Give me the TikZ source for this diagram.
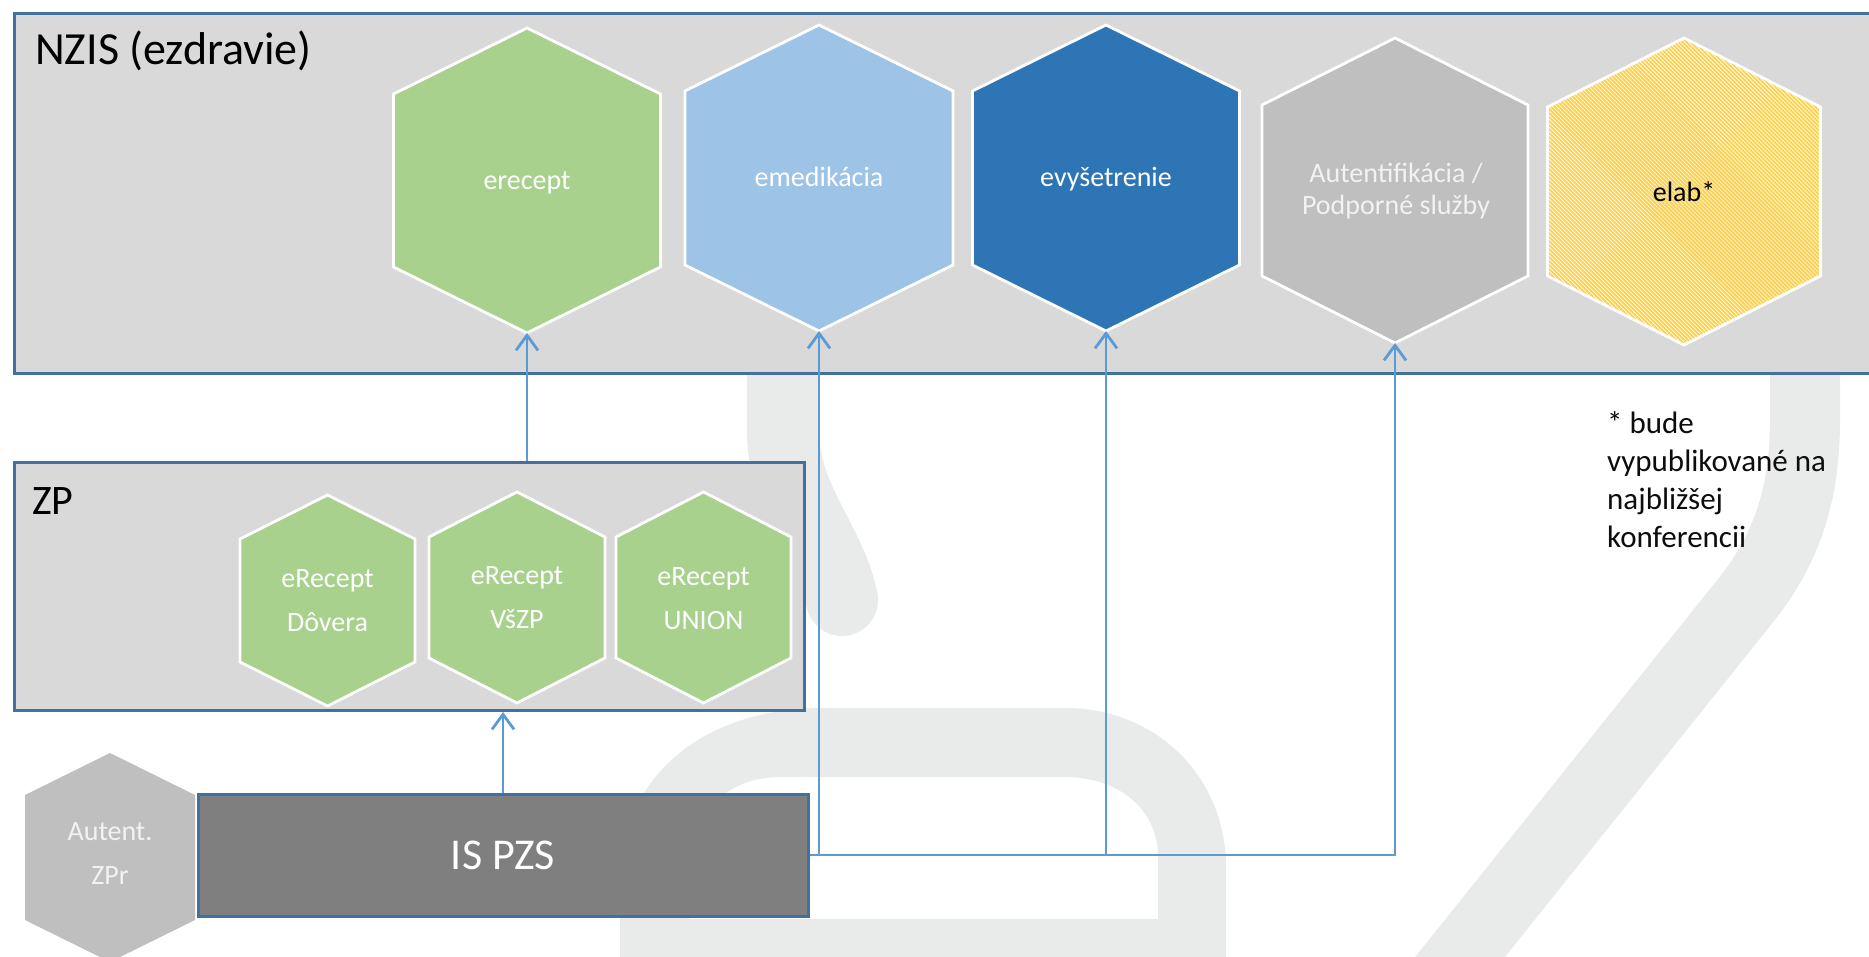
\documentclass[tikz,border=0pt]{standalone}
\usepackage{fontspec}
\setmainfont{Carlito}
\usetikzlibrary{arrows.meta,patterns.meta}
\definecolor{boxfill}{HTML}{D9D9D9}
\definecolor{boxline}{HTML}{41719C}
\definecolor{hgreen}{HTML}{A9D18E}
\definecolor{hlblue}{HTML}{9DC3E6}
\definecolor{hdblue}{HTML}{2E75B6}
\definecolor{hgray}{HTML}{BFBFBF}
\definecolor{hyellow}{HTML}{FFD347}
\definecolor{dgray}{HTML}{7F7F7F}
\definecolor{connc}{HTML}{5B9BD5}
\definecolor{wmark}{HTML}{E9EBEA}
\definecolor{ltext}{HTML}{F2F2F2}
% #1 style, #2 cx, #3 top, #4 bottom, #5 half width, #6 shoulder offset
\newcommand\hexa[6]{\path[#1] (#2,#3) -- (#2+#5,#3+#6) -- (#2+#5,#4-#6) -- (#2,#4) -- (#2-#5,#4-#6) -- (#2-#5,#3+#6) -- cycle;}
\begin{document}
\begin{tikzpicture}[x=1pt,y=-1pt,
  hexline/.style={draw=white, line width=2.8pt, line join=miter},
  htext/.style={text=white, font=\fontsize{28}{34}\selectfont, anchor=base, inner sep=0pt},
  container/.style={fill=boxfill, draw=boxline, line width=3pt, inner sep=0pt, anchor=north west},
  connline/.style={draw=connc, line width=2.8pt},
  arrowto/.style={-{Straight Barb[length=15pt,width=22pt]}},
  title/.style={anchor=base west, inner sep=0pt, text=black},
  note/.style={anchor=base west, inner sep=0pt, text=black!95, font=\fontsize{31}{38}\selectfont}
]
\useasboundingbox (0,0) rectangle (1869,957);
\clip (0,0) rectangle (1869,957);
\fill[white] (0,0) rectangle (1869,957);

% background watermark
\fill[wmark, even odd rule]
  (620,1000) -- (620,880) .. controls (620,780) and (700,708) .. (823,708) -- (1064,708)
  .. controls (1160,708) and (1226,780) .. (1226,867) -- (1226,1000) -- cycle
  (689,919) -- (689,880) .. controls (689,820) and (720,777) .. (781,777) -- (1064,777)
  .. controls (1120,777) and (1158,810) .. (1158,857) -- (1158,919) -- cycle;
\draw[wmark, line width=72pt, line cap=round] (783,300) -- (783,430) .. controls (783,500) and (830,540) .. (842,600);
\draw[wmark, line width=70pt] (1805,300) -- (1805,420) .. controls (1805,490) and (1789,546) .. (1746,600) -- (1420,1007);

% containers
\node[container, minimum width=1900pt, minimum height=360pt] (nzis) at (12.5,12) {};
\node[title, font=\fontsize{46}{55}\selectfont] (nzistitle) at (35,65) {NZIS (ezdravie)};
\node[container, minimum width=790pt, minimum height=248pt] (zp) at (13,461) {};
\node[title, font=\fontsize{42}{50}\selectfont] (zptitle) at (32,514) {ZP};

% NZIS hexagons
\hexa{fill=hgreen, hexline}{527}{28}{333}{133.5}{66}
\node[htext] (erecept) at (527,190) {erecept};
\coordinate (erecept-s) at (527,333);

\hexa{fill=hlblue, hexline}{819}{25}{331}{134}{66}
\node[htext] (emed) at (819,187) {emedikácia};
\coordinate (emed-s) at (819,331);

\hexa{fill=hdblue, hexline}{1106}{25}{331}{133.5}{66}
\node[htext] (evys) at (1106,187) {evyšetrenie};
\coordinate (evys-s) at (1106,331);

\hexa{fill=hgray, hexline}{1395}{38}{343}{133}{67}
\node[htext, text=ltext] (auth1) at (1396,183) {Autentifikácia /};
\node[htext, text=ltext] (auth2) at (1396,215) {Podporné služby};
\coordinate (auth-s) at (1395,343);

\hexa{fill=white}{1684}{38}{345}{136.5}{69}
\hexa{pattern={Lines[angle=-45,distance=2.83pt,line width=2pt]}, pattern color=hyellow}{1684}{38}{345}{136.5}{69}
\hexa{hexline}{1684}{38}{345}{136.5}{69}
\node[htext, text=black] (elab) at (1684,202) {elab*};

% ZP hexagons
\hexa{fill=hgreen, hexline}{327.5}{495}{706}{87.5}{44}
\node[htext] (dov1) at (327.5,587) {eRecept};
\node[htext] (dov2) at (327.5,631) {Dôvera};

\hexa{fill=hgreen, hexline}{517}{492}{703}{88}{45}
\node[htext] (vszp1) at (517,584) {eRecept};
\node[htext] (vszp2) at (517,628) {VšZP};

\hexa{fill=hgreen, hexline}{703.5}{492}{703}{87.5}{45}
\node[htext] (union1) at (703.5,585) {eRecept};
\node[htext] (union2) at (703.5,629) {UNION};

% bottom row
\hexa{fill=hgray}{110}{753}{962}{85}{42}
\node[htext, text=ltext] (autzpr1) at (110,840) {Autent.};
\node[htext, text=ltext] (autzpr2) at (110,884) {ZPr};

\node[fill=dgray, draw=boxline, line width=3pt, minimum width=610pt, minimum height=122pt,
      inner sep=0pt, text=white, font=\fontsize{44}{52}\selectfont] (ispzs) at (503,855) {IS PZS};

% footnote
\node[note] (fn1) at (1607,433) {* bude};
\node[note] (fn2) at (1607,471) {vypublikované na};
\node[note] (fn3) at (1607,509) {najbližšej};
\node[note] (fn4) at (1607,547) {konferencii};

% connectors
\draw[connline, arrowto] (zp.north -| erecept-s) -- (erecept-s);
\draw[connline, arrowto] (ispzs.north) -- (ispzs.north |- zp.south);
\draw[connline, arrowto] (ispzs.east) -| (auth-s);
\draw[connline, arrowto] (ispzs.east -| emed-s) -- (emed-s);
\draw[connline, arrowto] (ispzs.east -| evys-s) -- (evys-s);
\end{tikzpicture}
\end{document}
